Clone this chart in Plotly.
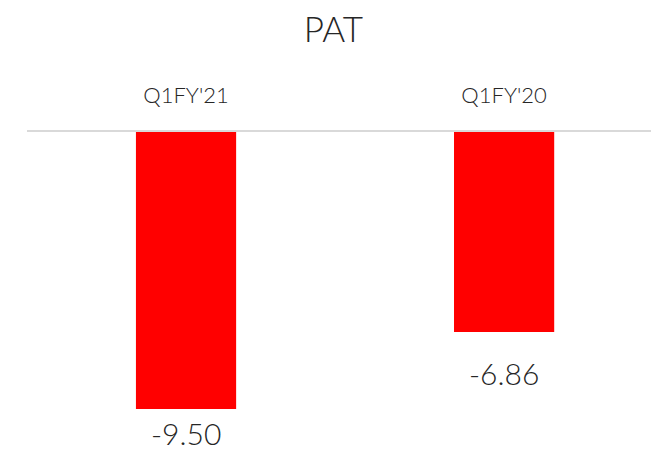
import plotly.graph_objects as go

periodos = ["Q1FY'21", "Q1FY'20"]
pat = [-9.50, -6.86]
etiquetas = ["-9.50", "-6.86"]

fig = go.Figure(go.Bar(
    x=periodos, y=pat,
    marker=dict(color='#ff0000', line=dict(width=0)),
))

# etiquetas debajo de cada barra (la primera queda más pegada por falta de sitio)
separacion = [4, 21]
for p, v, t, s in zip(periodos, pat, etiquetas, separacion):
    fig.add_annotation(x=p, y=v, text=t, showarrow=False, yanchor='top', yshift=-s,
                       font=dict(size=30, color='#262626'))

# la página tiene 8px de margen en el body, así que se compensa aquí
fig.update_layout(
    width=651, height=444,
    title=dict(text='PAT', x=0.5, xanchor='center', y=1 - 22 / 444, yanchor='middle',
               font=dict(size=35, color='#262626')),
    font=dict(family='Lato, "Open Sans", sans-serif', color='#262626', weight=300),
    paper_bgcolor='white', plot_bgcolor='white',
    margin=dict(l=19, r=0, t=124, b=0),
    bargap=0.685,
    showlegend=False,
    xaxis=dict(side='top', showline=True, linecolor='#d9d9d9', linewidth=2,
               range=[-0.5, 1.487],
               showgrid=False, ticks='', tickfont=dict(size=22, color='#262626'),
               ticklabelstandoff=18),
    yaxis=dict(range=[-10.97, 0], visible=False, showgrid=False, zeroline=False),
)

fig.write_html("out.html")
